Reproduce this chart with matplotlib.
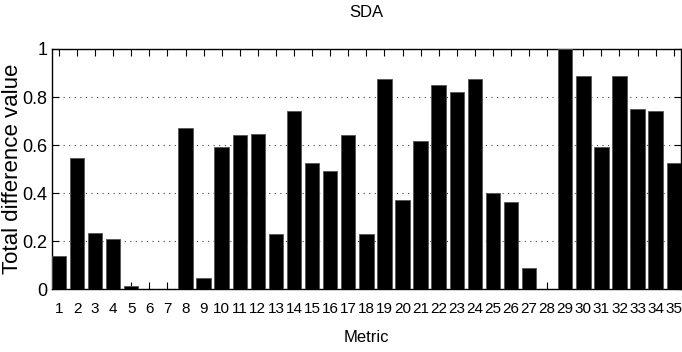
import matplotlib
matplotlib.use("Agg")
import matplotlib.pyplot as plt

metrics = list(range(1, 36))
values = [0.139, 0.548, 0.236, 0.211, 0.014, 0.003, 0.003, 0.673, 0.048, 0.594,
          0.640, 0.648, 0.230, 0.742, 0.526, 0.494, 0.640, 0.230, 0.873, 0.371,
          0.616, 0.852, 0.822, 0.876, 0.400, 0.363, 0.090, 0.0, 1.0, 0.887,
          0.592, 0.887, 0.750, 0.740, 0.527]
yticks = [0, 0.2, 0.4, 0.6, 0.8, 1]
ytick_labels = ["0", "0.2", "0.4", "0.6", "0.8", "1"]

plt.rcParams["font.family"] = ["Liberation Sans", "DejaVu Sans"]

fig = plt.figure(figsize=(6.82, 3.52), dpi=100)
ax = fig.add_axes([0.0758, 0.178, 0.9227, 0.683])

ax.bar(metrics, values, width=0.8, color="black", edgecolor="#555555", linewidth=0.6, zorder=3)

ax.set_xlim(0.6, 35.4)
ax.set_ylim(0, 1)
ax.set_xticks(metrics)
ax.set_xticklabels([str(m) for m in metrics], fontsize=11)
ax.set_yticks(yticks)
ax.set_yticklabels(ytick_labels, fontsize=13)
ax.tick_params(direction="in", length=5, top=True, right=True, width=0.8)
ax.tick_params(axis="x", pad=9)
ax.tick_params(axis="y", pad=3)
ax.yaxis.grid(True, linestyle=(0, (1, 4)), color="#444444", linewidth=0.8, zorder=0)
for s in ax.spines.values():
    s.set_linewidth(1.0)

ax.set_title("SDA", fontsize=12, pad=23)
ax.set_xlabel("Metric", fontsize=12)
ax.xaxis.set_label_coords(0.5, -0.17)
ax.set_ylabel("Total difference value", fontsize=16)
ax.yaxis.set_label_coords(-0.046, 0.5)

fig.savefig("out.png", dpi=100)
